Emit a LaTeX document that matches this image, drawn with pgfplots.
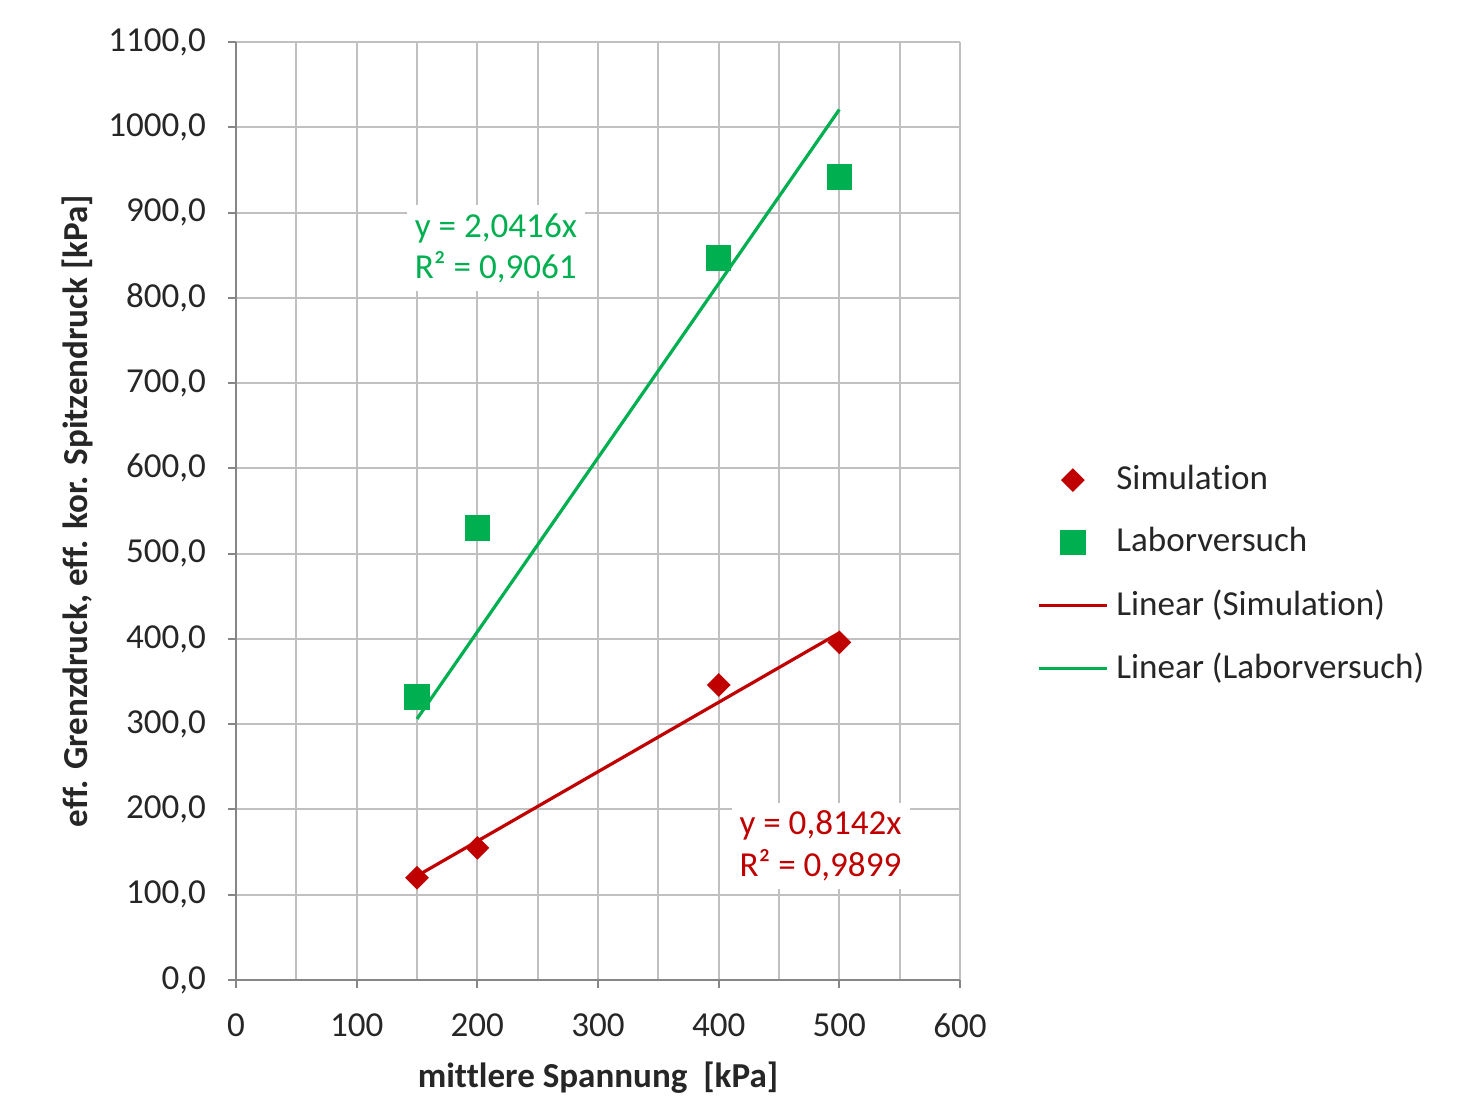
\documentclass[border=0pt]{standalone}
\usepackage{pgfplots}
\pgfplotsset{compat=1.18}
\usepackage{fontspec}
\setmainfont{Carlito}[Ligatures=NoCommon]
\usetikzlibrary{calc}
\definecolor{simred}{RGB}{192,0,0}
\definecolor{labgreen}{RGB}{0,176,80}
\definecolor{gridgray}{RGB}{192,192,192}
\definecolor{axgray}{RGB}{134,134,134}

\begin{document}
\begin{tikzpicture}
\begin{axis}[
    name=ax,
    scale only axis,
    width=181bp, height=234.5bp,
    xmin=0, xmax=600, ymin=0, ymax=1100,
    xtick={0,100,...,600},
    ytick={0,100,...,1100},
    minor xtick={50,150,...,550},
    grid=both,
    grid style={gridgray, line width=0.5bp},
    minor grid style={gridgray, line width=0.5bp},
    axis x line*=bottom, axis y line*=left,
    axis line style={axgray, line width=0.6bp},
    tick align=outside,
    major tick length=2bp,
    minor tick length=0pt,
    tick style={axgray, line width=0.5bp},
    every tick label/.style={font=\fontsize{8.8}{10}\selectfont, text=black!85},
    /pgf/number format/assume math mode=true,
    yticklabel style={xshift=-2bp, /pgf/number format/.cd, fixed, fixed zerofill, precision=1, use comma, 1000 sep={}},
    xticklabel style={yshift=-3bp, /pgf/number format/.cd, fixed, precision=0, 1000 sep={}},
    xlabel={\bfseries mittlere Spannung~~[kPa]},
    ylabel={\bfseries eff. Grenzdruck, eff. kor. Spitzendruck [kPa]},
    label style={font=\fontsize{8.8}{10}\selectfont, text=black!85},
    xlabel style={at={(0.5,0)}, anchor=center, yshift=-24.5bp},
    every axis y label/.append style={at={(ticklabel cs:0.5)}, yshift=-3bp},
    legend style={at={(1.089,0.432)}, anchor=west, draw=none, fill=none,
        font=\fontsize{8.8}{10}\selectfont, text=black!85, row sep=4bp},
    legend cell align=left,
]
% Simulation
\addplot[only marks, mark=square*, mark size=1.9bp, mark options={rotate=45}, color=simred]
    coordinates {(150,120) (200,155) (400,346) (500,396)};
\addlegendentry{Simulation}
% Laborversuch
\addplot[only marks, mark=square*, mark size=3bp, color=labgreen]
    coordinates {(150,332) (200,530) (400,847) (500,942)};
\addlegendentry{Laborversuch}
% trend lines
\addplot[simred, line width=0.8bp, mark=none]
    coordinates {(150,122.1) (500,407.1)};
\addlegendentry{Linear (Simulation)}
\addplot[labgreen, line width=0.8bp, mark=none]
    coordinates {(150,306.2) (500,1020.8)};
\addlegendentry{Linear (Laborversuch)}

\node[anchor=west, fill=white, inner sep=2bp, align=left, text=labgreen,
      font=\fontsize{8.8}{10.5}\selectfont] at (axis cs:141,858)
      {y = 2,0416x\\R² = 0,9061};
\node[anchor=west, fill=white, inner sep=2bp, align=left, text=simred,
      font=\fontsize{8.8}{10.5}\selectfont] at (axis cs:410,157)
      {y = 0,8142x\\R² = 0,9899};
\end{axis}
\pgfresetboundingbox
\path[use as bounding box] ($(ax.south west)+(-59bp,-29bp)$) rectangle ($(ax.south west)+(309.75bp,245bp)$);
\end{tikzpicture}
\end{document}
